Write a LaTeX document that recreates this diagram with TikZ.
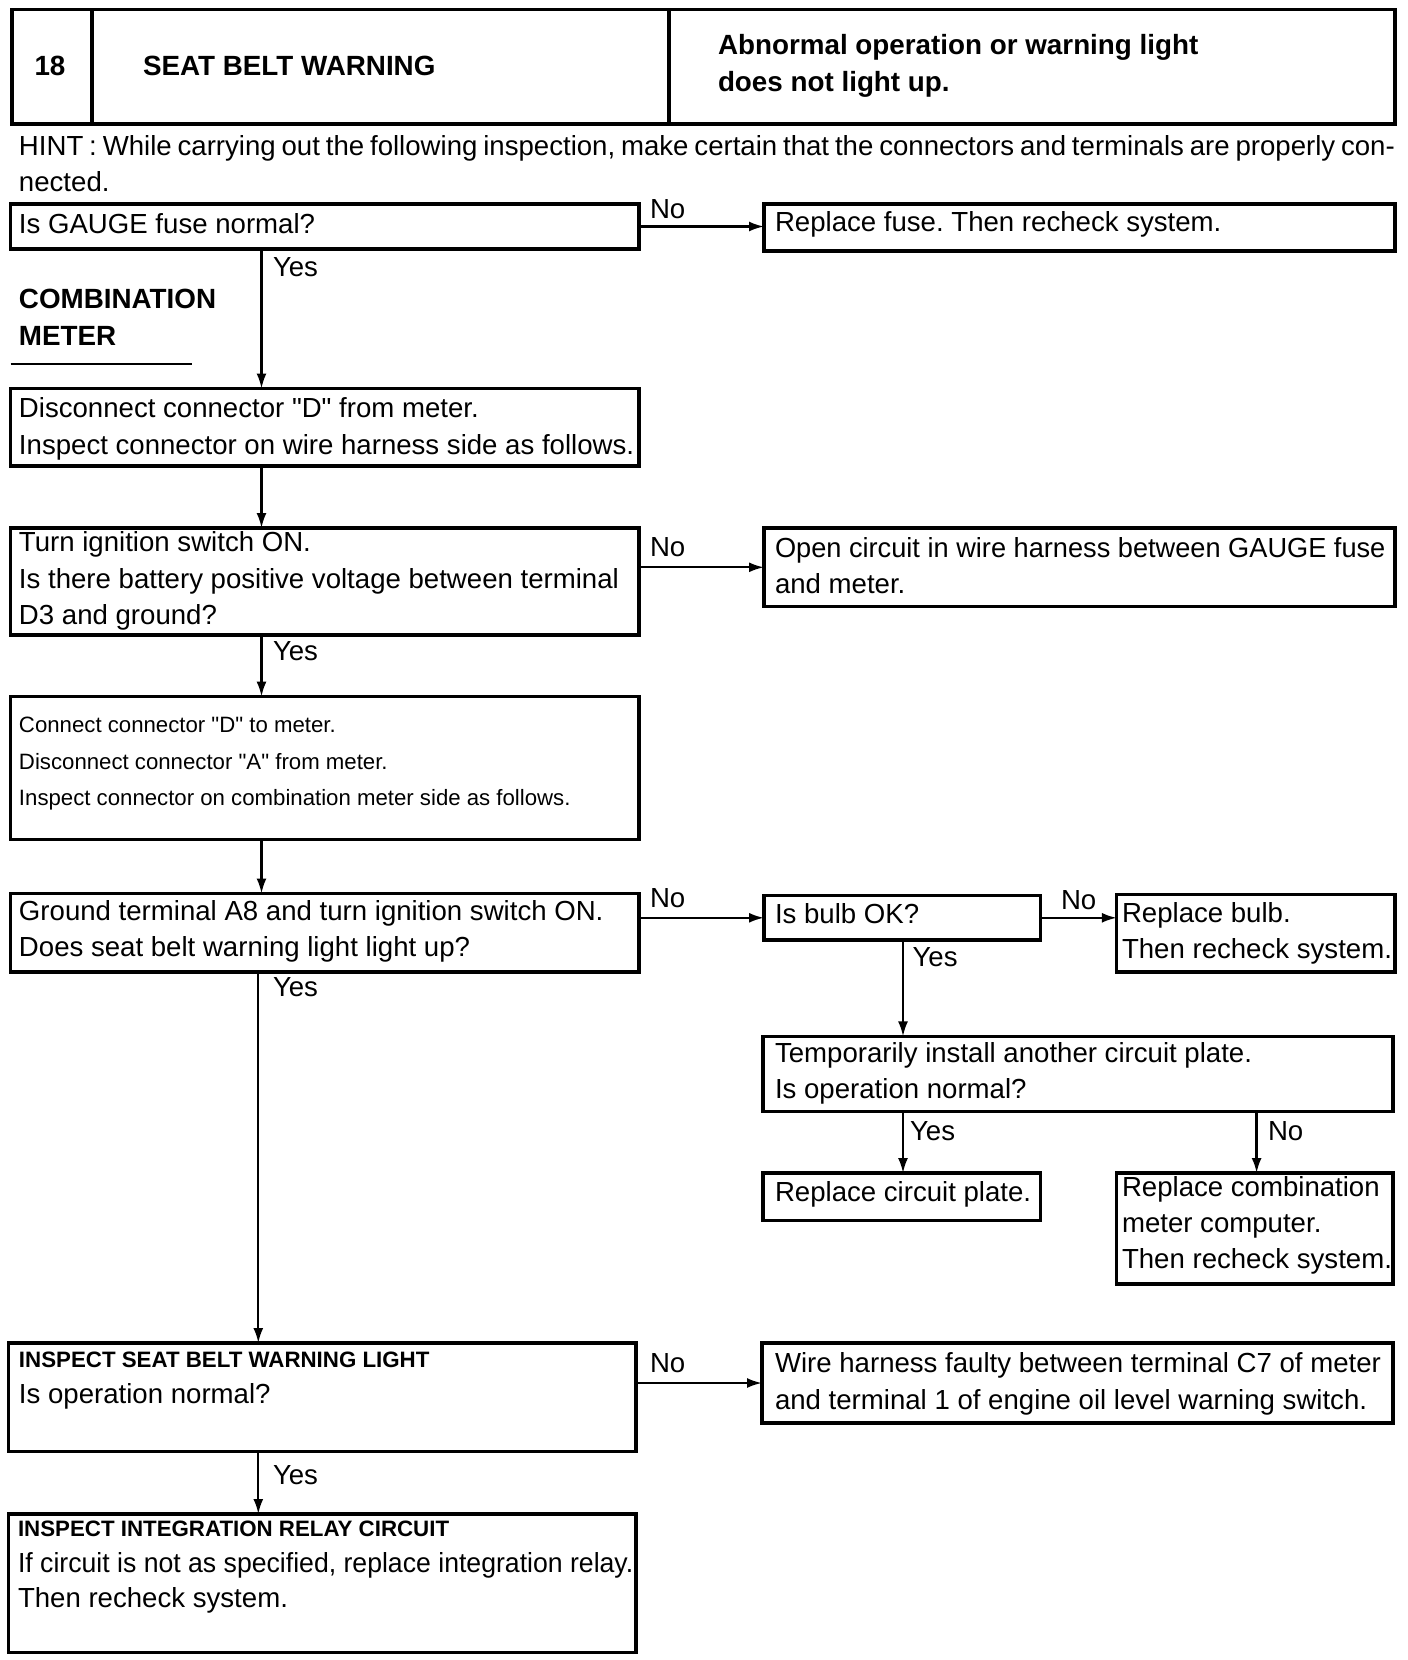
\documentclass[tikz,border=0pt]{standalone}
\usepackage{fontspec}
\setmainfont{Liberation Sans}
\newfontfamily\lib{Liberation Sans}
\usetikzlibrary{arrows.meta}
\frenchspacing
\newcommand\nsz{\lib\fontsize{27.6}{36}\selectfont\frenchspacing}
\newcommand\ssz{\lib\fontsize{22.2}{30}\selectfont\frenchspacing}
\newcommand\bsz{\lib\fontsize{27.8}{36}\selectfont\bfseries\frenchspacing}
\newcommand\bssz{\lib\fontsize{22.3}{30}\selectfont\bfseries\frenchspacing}
\begin{document}
\begin{tikzpicture}[x=1pt,y=-1pt,
  box/.style={draw,line width=3.2pt,inner sep=0pt,outer sep=0pt,anchor=north west},
  txt/.style={anchor=base west,inner sep=0pt,outer sep=0pt,font=\nsz},
  stxt/.style={txt,font=\ssz},
  btxt/.style={txt,font=\bsz},
  bstxt/.style={txt,font=\bssz},
  arr/.style={line width=2.3pt,-{Latex[length=15pt,width=10pt]}},
  rule/.style={line width=2.4pt}]
\useasboundingbox (0,0) rectangle (1408,1660);

% header
\node[box,minimum width=1383pt,minimum height=114.5pt] (hdr) at (12,9.5) {};
\coordinate (d1) at (92,0);
\coordinate (d2) at (669,0);
\draw[line width=3.2pt] (hdr.north -| d1) -- (hdr.south -| d1);
\draw[line width=3.2pt] (hdr.north -| d2) -- (hdr.south -| d2);
\node[btxt,anchor=base] (hnum) at (50,75) {18};
\node[btxt] (htitle) at (143,75) {SEAT BELT WARNING};
\node[btxt] (hsym1) at (718,54.5) {Abnormal operation or warning light};
\node[btxt] (hsym2) at (718,91.6) {does not light up.};

% hint
\node[txt] (hint1) at (19,155) {\makebox[1376pt][s]{HINT : While carrying out the following inspection, make certain that the connectors and terminals are properly con-}};
\node[txt] (hint2) at (19,191) {nected.};

% coordinates for vertical connectors
\coordinate (cx1) at (261.5,0);
\coordinate (cx2) at (258.3,0);
\coordinate (cx3) at (903,0);
\coordinate (cx4) at (1256.6,0);

% box 1
\node[box,minimum width=628.4pt,minimum height=45pt] (b1) at (10.6,204) {};
\node[txt] (b1t) at (19,233) {Is GAUGE fuse normal?};
\node[box,minimum width=631pt,minimum height=47pt] (r1) at (764,204) {};
\node[txt] (r1t) at (775,231) {Replace fuse. Then recheck system.};
\draw[arr] (b1.east) -- (b1.east -| r1.west);
\node[txt] (no1) at (650,218.6) {No};
\node[txt] (yes1) at (273,276) {Yes};

\node[btxt] (cm1) at (19,308.6) {COMBINATION};
\node[btxt] (cm2) at (19,345.6) {METER};
\draw[rule] (10.6,364) -- (191.6,364);

% box 2
\node[box,minimum width=628.4pt,minimum height=77.5pt] (b2) at (10.6,388.5) {};
\node[txt] (b2t1) at (19,417.6) {Disconnect connector "D" from meter.};
\node[txt] (b2t2) at (19,454.7) {Inspect connector on wire harness side as follows.};
\draw[arr] (b1.south -| cx1) -- (b2.north -| cx1);

% box 3
\node[box,minimum width=628.4pt,minimum height=107pt] (b3) at (10.6,528) {};
\node[txt] (b3t1) at (19,551) {Turn ignition switch ON.};
\node[txt] (b3t2) at (19,588) {Is there battery positive voltage between terminal};
\node[txt] (b3t3) at (19,624) {D3 and ground?};
\draw[arr] (b2.south -| cx1) -- (b3.north -| cx1);
\node[box,minimum width=631pt,minimum height=78.6pt] (r3) at (764,528) {};
\node[txt] (r3t1) at (775,557.4) {\scalebox{0.985}[1]{Open circuit in wire harness between GAUGE fuse}};
\node[txt] (r3t2) at (775,593.4) {and meter.};
\draw[arr] (r3.west -| b3.east) -- (r3.west);
\node[txt] (no3) at (650,556) {No};
\node[txt] (yes3) at (273,660) {Yes};

% box 4
\node[box,minimum width=628.4pt,minimum height=143pt] (b4) at (10.6,696.6) {};
\node[stxt] (b4t1) at (19,732) {Connect connector "D" to meter.};
\node[stxt] (b4t2) at (19,769) {Disconnect connector "A" from meter.};
\node[stxt] (b4t3) at (19,805) {Inspect connector on combination meter side as follows.};
\draw[arr] (b3.south -| cx1) -- (b4.north -| cx1);

% box 5
\node[box,minimum width=628.4pt,minimum height=78.5pt] (b5) at (10.6,893.5) {};
\node[txt] (b5t1) at (19,920.5) {Ground terminal A8 and turn ignition switch ON.};
\node[txt] (b5t2) at (19,956.4) {Does seat belt warning light light up?};
\draw[arr] (b4.south -| cx1) -- (b5.north -| cx1);
\node[box,minimum width=276.6pt,minimum height=44.4pt] (r5) at (764,895.6) {};
\node[txt] (r5t) at (775,923.6) {Is bulb OK?};
\draw[arr] (r5.west -| b5.east) -- (r5.west);
\node[txt] (no5) at (650,907.7) {No};
\node[box,minimum width=278.2pt,minimum height=77.5pt] (r5b) at (1116.8,894.5) {};
\node[txt] (r5bt1) at (1122,922.6) {Replace bulb.};
\node[txt] (r5bt2) at (1122,958.6) {Then recheck system.};
\draw[arr] (r5.east) -- (r5.east -| r5b.west);
\node[txt] (no5b) at (1061,909.9) {No};
\node[txt] (yes5b) at (912.5,966) {Yes};

% box r6
\node[box,minimum width=630pt,minimum height=75pt] (r6) at (763,1036.4) {};
\node[txt] (r6t1) at (775,1062.3) {Temporarily install another circuit plate.};
\node[txt] (r6t2) at (775,1098.3) {Is operation normal?};
\draw[arr] (r5.south -| cx3) -- (r6.north -| cx3);
\node[box,minimum width=277.6pt,minimum height=47.6pt] (r7) at (763,1173) {};
\node[txt] (r7t) at (775,1201) {Replace circuit plate.};
\node[box,minimum width=276.2pt,minimum height=111pt] (r8) at (1116.8,1173) {};
\node[txt] (r8t1) at (1122,1196.7) {Replace combination};
\node[txt] (r8t2) at (1122,1232.8) {meter computer.};
\node[txt] (r8t3) at (1122,1268.7) {Then recheck system.};
\draw[arr] (r6.south -| cx3) -- (r7.north -| cx3);
\draw[arr] (r6.south -| cx4) -- (r8.north -| cx4);
\node[txt] (yes6) at (910,1140.6) {Yes};
\node[txt] (no6) at (1268,1140.6) {No};

% box 6
\node[box,minimum width=627.5pt,minimum height=108.4pt] (b6) at (8.5,1343) {};
\node[bstxt] (b6t1) at (19,1367.3) {INSPECT SEAT BELT WARNING LIGHT};
\node[txt] (b6t2) at (19,1403.2) {Is operation normal?};
\draw[arr] (b5.south -| cx2) -- (b6.north -| cx2);
\node[txt] (yes5) at (273,996.7) {Yes};
\node[box,minimum width=631pt,minimum height=80pt] (r9) at (762,1343) {};
\node[txt] (r9t1) at (775,1372.5) {Wire harness faulty between terminal C7 of meter};
\node[txt] (r9t2) at (775,1409.5) {and terminal 1 of engine oil level warning switch.};
\draw[arr] (r9.west -| b6.east) -- (r9.west);
\node[txt] (no7) at (650,1372.5) {No};

% box 7
\node[box,minimum width=627.5pt,minimum height=138.5pt] (b7) at (8.5,1514) {};
\node[bstxt] (b7t1) at (18,1536.7) {INSPECT INTEGRATION RELAY CIRCUIT};
\node[txt] (b7t2) at (18,1572.6) {\scalebox{0.965}[1]{If circuit is not as specified, replace integration relay.}};
\node[txt] (b7t3) at (18,1607.5) {Then recheck system.};
\draw[arr] (b6.south -| cx2) -- (b7.north -| cx2);
\node[txt] (yes7) at (273,1484.7) {Yes};
\end{tikzpicture}
\end{document}
